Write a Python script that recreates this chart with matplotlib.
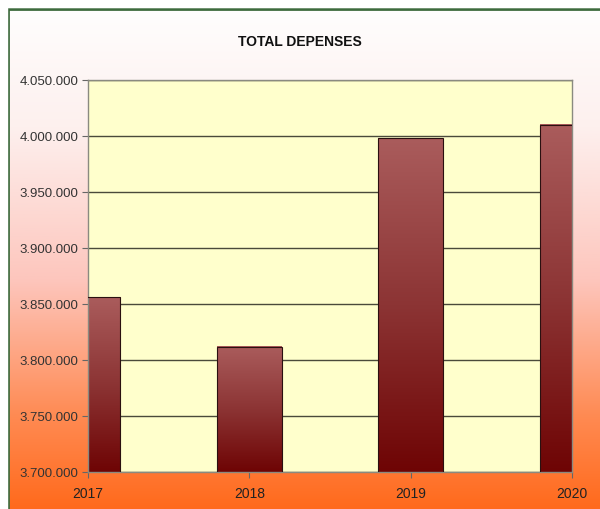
import matplotlib
matplotlib.use("Agg")
from matplotlib import pyplot as plt
from matplotlib.colors import LinearSegmentedColormap
from matplotlib.patches import Rectangle
import numpy as np

annees = [2017, 2018, 2019, 2020]
depenses = [3856000, 3812000, 3998000, 4010000]
graduations = [3700000, 3750000, 3800000, 3850000, 3900000, 3950000, 4000000, 4050000]

def format_milliers(v):
    return "{:,.0f}".format(v).replace(",", ".")

plt.rcParams['font.family'] = ['Liberation Sans', 'DejaVu Sans']

fig = plt.figure(figsize=(6, 5.1), dpi=100)

# fond degrade de la figure (blanc -> rose -> orange)
fond = fig.add_axes([0, 0, 1, 1], zorder=-10)
cm_fond = LinearSegmentedColormap.from_list(
    "fond", [(0, "#ff6a1c"), (0.18, "#ff8a52"), (0.45, "#fdc6bd"), (0.75, "#fdf0ee"), (1, "#ffffff")])
fond.imshow(np.linspace(0, 1, 256).reshape(-1, 1), cmap=cm_fond, aspect="auto",
            extent=[0, 1, 0, 1], origin="lower")
fond.add_patch(Rectangle((8 / 600, -0.1), 1.2, 1 - 10 / 510 + 0.1, fill=False,
                         edgecolor="#3d6b3d", linewidth=2))
fond.add_patch(Rectangle((0, 1 - 8 / 510), 1, 8 / 510, color="white"))
fond.add_patch(Rectangle((0, 0), 7 / 600, 1, color="white"))
fond.set_xlim(0, 1)
fond.set_ylim(0, 1)
fond.axis("off")

ax = fig.add_axes([88 / 600, 1 - 473 / 510, (572 - 88) / 600, (473 - 81) / 510])
ax.set_facecolor("#ffffcc")

cm_barre = LinearSegmentedColormap.from_list("barre", ["#6e0404", "#8c3434", "#aa5c5c"])
x = np.arange(len(annees))
barres = ax.bar(x, depenses, width=0.40, bottom=0, color="none", edgecolor="#2a1010",
                linewidth=0.8, zorder=3)
for b in barres:
    x0, w, h = b.get_x(), b.get_width(), b.get_height()
    ax.imshow(np.linspace(0, 1, 256).reshape(-1, 1), cmap=cm_barre, aspect="auto",
              extent=[x0, x0 + w, graduations[0], h], origin="lower", zorder=2)

ax.set_xlim(0, len(annees) - 1)
ax.set_ylim(graduations[0], graduations[-1])
ax.set_yticks(graduations)
ax.set_yticklabels([format_milliers(v) for v in graduations], fontsize=9.5, color="#333333")
ax.set_xticks(x)
ax.set_xticklabels([str(a) for a in annees], fontsize=10, color="#222222")
ax.grid(axis="y", color="#4a4a3a", linewidth=1, zorder=1)
ax.set_axisbelow(True)
ax.tick_params(axis="y", direction="out", length=4, color="#666666", pad=3)
ax.tick_params(axis="x", direction="out", length=4, color="#666666", pad=6)
for s in ax.spines.values():
    s.set_color("#8a8a80")
    s.set_linewidth(1)

fig.text(0.5, 1 - 42 / 510, "TOTAL DEPENSES", ha="center", va="center",
         fontsize=10, fontweight="bold", color="#111111")

fig.savefig("out.png", dpi=100)
